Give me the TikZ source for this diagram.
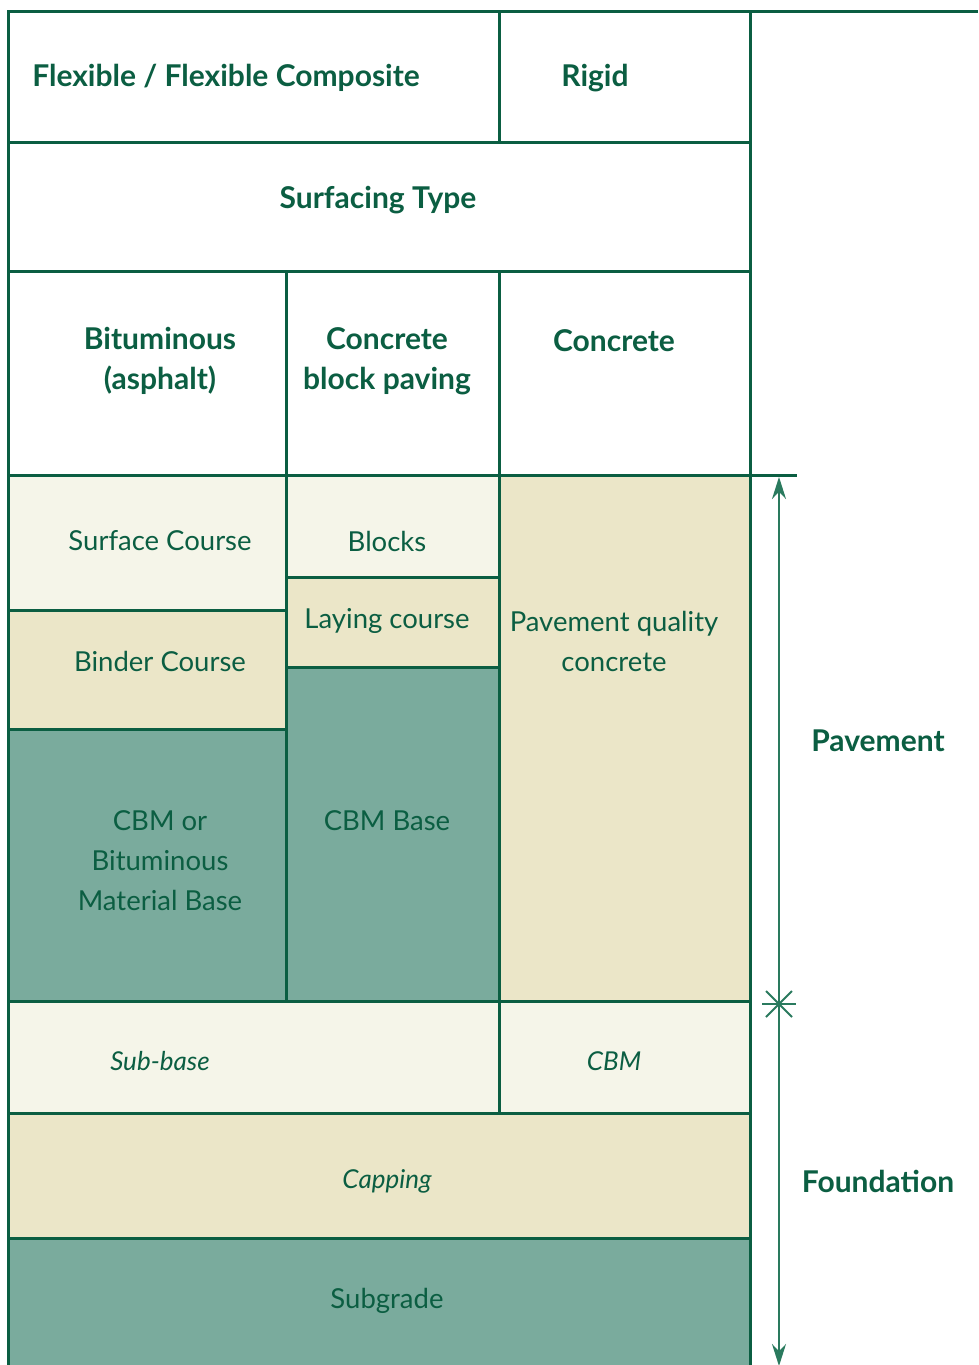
\documentclass[tikz,border=0pt]{standalone}
\usepackage{fontspec}
\setmainfont{Lato}
\usetikzlibrary{arrows.meta}
\definecolor{dg}{HTML}{0B5E42}
\definecolor{ag}{HTML}{2A7A5E}
\definecolor{cream}{HTML}{F5F5E9}
\definecolor{tan}{HTML}{EBE6C8}
\definecolor{teal}{HTML}{7AAB9D}
\begin{document}
\begin{tikzpicture}[x=1pt,y=-1pt,
  grid/.style={draw=dg,line width=3pt},
  lbl/.style={text=dg,inner sep=0pt,align=center,font=\fontsize{27.5}{40}\selectfont},
  ilbl/.style={lbl,font=\itshape\fontsize{26}{40}\selectfont},
  hd/.style={lbl,font=\bfseries\fontsize{30}{40}\selectfont},
  arr/.style={draw=ag,line width=1.6pt}]
\useasboundingbox (0,0) rectangle (978,1365);
\fill[white] (0,0) rectangle (978,1365);
% fills
\fill[cream] (8,475) rectangle (286,610);
\fill[tan] (8,610) rectangle (286,729);
\fill[teal] (8,729) rectangle (286,1001);
\fill[cream] (286,475) rectangle (499,577);
\fill[tan] (286,577) rectangle (499,667);
\fill[teal] (286,667) rectangle (499,1001);
\fill[tan] (499,475) rectangle (750,1001);
\fill[cream] (8,1001) rectangle (750,1113);
\fill[tan] (8,1113) rectangle (750,1238);
\fill[teal] (8,1238) rectangle (750,1365);
% grid lines
\draw[grid] (8,1366) -- (8,11) -- (978,11);
\draw[grid] (750,11) -- (750,1366);
\draw[grid] (499,11) -- (499,142);
\draw[grid] (499,271) -- (499,1113);
\draw[grid] (286,271) -- (286,1001);
\draw[grid] (8,142) -- (750,142);
\draw[grid] (8,271) -- (750,271);
\draw[grid] (8,475) -- (797,475);
\draw[grid] (8,610) -- (286,610);
\draw[grid] (8,729) -- (286,729);
\draw[grid] (286,577) -- (499,577);
\draw[grid] (286,667) -- (499,667);
\draw[grid] (8,1001) -- (750,1001);
\draw[grid] (8,1113) -- (750,1113);
\draw[grid] (8,1238) -- (750,1238);
% headings
\node[hd] (flex) at (226,78) {Flexible / Flexible Composite};
\node[hd] (rigid) at (595,78) {Rigid};
\node[hd] (surf) at (378,200) {Surfacing Type};
\node[hd] (bit) at (160,361) {Bituminous\\(asphalt)};
\node[hd] (cbp) at (387,361) {Concrete\\block paving};
\node[hd] (conc) at (614,341) {Concrete};
% layers
\node[lbl] (sc) at (160,541) {Surface Course};
\node[lbl] (bc) at (160,661) {Binder Course};
\node[lbl] (cbm1) at (160,861) {CBM or\\Bituminous\\Material Base};
\node[lbl] (blk) at (387,541) {Blocks};
\node[lbl] (lay) at (387,621) {Laying course};
\node[lbl] (cbm2) at (387,821) {CBM Base};
\node[lbl] (pqc) at (614,641) {Pavement quality\\concrete};
\node[ilbl] (sb) at (160,1061) {Sub-base};
\node[ilbl] (cbm3) at (614,1061) {CBM};
\node[ilbl] (cap) at (387,1181) {Capping};
\node[lbl] (sg) at (387,1301) {Subgrade};
% side labels
\node[hd] (pav) at (878,741) {Pavement};
\node[hd] (fnd) at (878,1181) {Foundation};
% dimension arrow
\coordinate (atop) at (779,477);
\coordinate (amid) at (779,1004);
\coordinate (abot) at (779,1366);
\draw[arr,{Stealth[length=22pt,width=14pt]}-{Stealth[length=22pt,width=14pt]}] (atop) -- (abot);
\draw[arr,line width=2pt] (amid) ++(-17,0) -- ++(34,0);
\draw[arr,line width=2pt] (amid) ++(0,-18) -- ++(0,36);
\draw[arr,line width=2pt] (amid) ++(-13,-13) -- ++(26,26);
\draw[arr,line width=2pt] (amid) ++(-13,13) -- ++(26,-26);
\end{tikzpicture}
\end{document}
